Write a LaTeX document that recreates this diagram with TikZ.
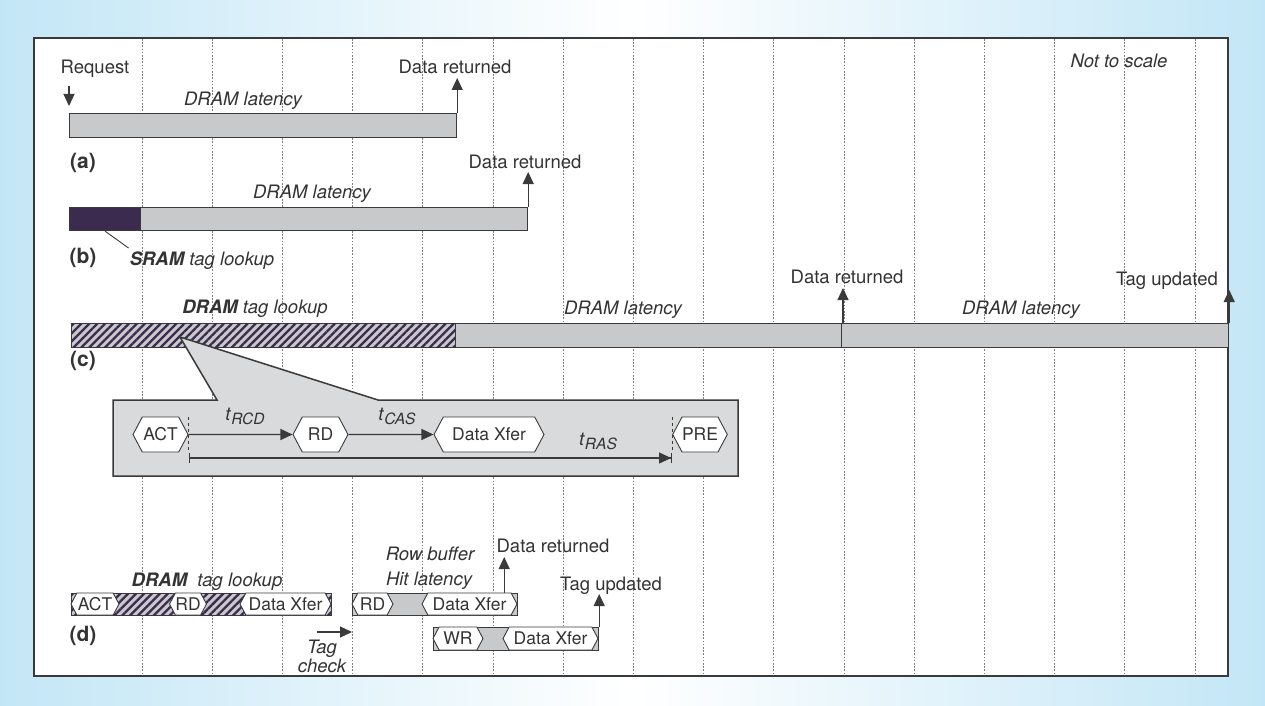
\documentclass[tikz,border=0pt]{standalone}
\usepackage{fontspec}
\setmainfont{TeX Gyre Heros}
\usetikzlibrary{arrows.meta, positioning, shapes.symbols, patterns.meta}
\usepackage{xcolor}
\definecolor{bgblue}{HTML}{C3E6F6}
\definecolor{barc}{HTML}{C8C9CB}
\definecolor{boxc}{HTML}{D9DADC}
\definecolor{purp}{HTML}{3B2B4E}
\definecolor{linec}{HTML}{3A3A3A}
\definecolor{txtc}{HTML}{333333}
\definecolor{gridc}{HTML}{7F7F7F}
\newcommand\lblfont{\fontsize{18.5}{22}\selectfont}
\newcommand\hexfont{\fontsize{17.5}{20}\selectfont}
\newcommand\tsub[1]{\textit{t}\raisebox{-0.45ex}{\fontsize{15.5}{15.5}\selectfont\itshape #1}}

\begin{document}
\begin{tikzpicture}[x=1pt, y=-1pt, >={Triangle[length=12pt,width=11pt]},
  bar/.style={draw=linec, line width=1.2pt, fill=barc, inner sep=0pt, anchor=north west, minimum height=24pt},
  hatch/.style={bar, postaction={pattern={Lines[angle=45,distance=5.6pt,line width=2.3pt]}, pattern color=purp}},
  hex/.style={signal, signal to=west and east, signal pointer angle=124, draw=linec, line width=0.9pt, fill=white, inner xsep=0pt, inner ysep=0pt, text=txtc, font=\hexfont},
  lbl/.style={text=txtc, font=\lblfont, inner sep=0pt, anchor=base},
  ital/.style={lbl, font=\lblfont\itshape},
  panel/.style={lbl, font=\fontsize{21}{24}\selectfont\bfseries},
  arr/.style={->, draw=linec, line width=1.1pt},
  gridline/.style={gridc, line width=0.8pt, dash pattern=on 1.6pt off 1.6pt}]
  \useasboundingbox (0,0) rectangle (1265,706);
  % Background and frame
  \fill[left color=bgblue, right color=bgblue, middle color=white] (0,0) rectangle (1265,706);
  \filldraw[fill=white, draw=linec, line width=1.5pt] (34,38) rectangle (1228,676);
  \foreach \k in {0,...,15} {
    \draw[gridline] ({142+70.2*\k},39) -- ({142+70.2*\k},675);
  }
  \node[ital] at (1119,68) {Not to scale};

  % (a) plain DRAM access
  \node[bar, minimum width=387pt] (a1) at (69,113) {};
  \node[lbl] (req) at (95,74) {Request};
  \coordinate (reqs) at (69,86);
  \draw[arr, shorten >=7pt] (reqs) -- (a1.north west);
  \node[lbl] (a2) at (455,74) {Data returned};
  \draw[arr] (a1.north east) -- ([yshift=-4pt]a1.north east |- a2.base);
  \node[ital] at (243,106) {DRAM latency};
  \node[panel] at (83,168) {(a)};

  % (b) SRAM tags
  \node[bar, fill=purp, minimum width=71pt, minimum height=23pt] (b1) at (69,207) {};
  \node[bar, minimum width=387pt, minimum height=23pt] (b2) at (140,207) {};
  \node[ital] at (312,198) {DRAM latency};
  \node[lbl] (b3) at (525,168) {Data returned};
  \draw[arr] (b2.north east) -- ([yshift=-4pt]b2.north east |- b3.base);
  \node[ital] (b4) at (202,265) {\textbf{SRAM} tag lookup};
  \draw[linec, line width=0.9pt] (b1.south) -- ([xshift=-1pt,yshift=3pt]b4.north west);
  \node[panel] at (83,263) {(b)};

  % (c) DRAM tags
  \node[hatch, minimum width=384pt] (c1) at (71,323) {};
  \node[bar, minimum width=386pt] (c2) at (455,323) {};
  \node[bar, minimum width=387pt] (c3) at (841,323) {};
  \node[ital] at (255,313) {\textbf{DRAM} tag lookup};
  \node[ital] at (623,314) {DRAM latency};
  \node[ital] at (1021,314) {DRAM latency};
  \node[lbl] (c4) at (847,283) {Data returned};
  \node[lbl] (c5) at (1167,285) {Tag updated};
  \coordinate (c3l) at ([xshift=2pt]c3.north west);
  \draw[arr] (c3l) -- ([yshift=-5pt]c3l |- c4.base);
  \draw[arr] (c3.north east) -- ([yshift=-5pt]c3.north east |- c5.base);
  \node[panel] at (83,366) {(c)};

  % Callout with DRAM commands
  \filldraw[fill=boxc, draw=linec, line width=1.5pt, line join=miter]
    (113,400) -- (217,400) -- (180,337) -- (378,400) -- (738,400) -- (738,476) -- (113,476) -- cycle;
  \node[hex, minimum width=55pt, minimum height=35pt] (act) at (160.5,434.5) {ACT};
  \node[hex, minimum width=55pt, minimum height=35pt] (rd) at (320.5,434.5) {RD};
  \node[hex, minimum width=110pt, minimum height=35pt] (dx) at (489,434.5) {Data Xfer};
  \node[hex, minimum width=54pt, minimum height=35pt] (pre) at (700,434.5) {PRE};
  \draw[arr] (act) -- (rd);
  \draw[arr] (rd) -- (dx);
  \node[lbl] at (245,420) {\tsub{RCD}};
  \node[lbl] at (397,420) {\tsub{CAS}};
  \node[lbl] at (598,445) {\tsub{RAS}};
  \draw[linec, line width=0.9pt, dashed] (act.east |- act.north) -- (act.east |- act.south);
  \draw[linec, line width=0.9pt, dashed] (pre.west |- pre.north) -- (pre.west |- pre.south);
  \draw[{Bar[width=10pt]}-{Triangle[length=12pt,width=11pt]Bar[width=10pt]}, linec, line width=1.1pt]
    (act.east |- 0,458) -- (pre.west |- 0,458);

  % (d) row buffer hit
  \node[ital] at (207,586) {\textbf{DRAM}\ \ tag lookup};
  \node[hatch, minimum width=260pt, minimum height=22pt] (d1) at (71,593) {};
  \node[hex, minimum width=48pt, minimum height=22pt] (d1a) at (95,604) {ACT};
  \node[hex, minimum width=36pt, minimum height=22pt] (d1b) at (188,604) {RD};
  \node[hex, minimum width=91pt, minimum height=22pt] (d1c) at (285.5,604) {Data Xfer};
  \node[bar, minimum width=165pt, minimum height=22pt] (d2) at (352,593) {};
  \node[hex, minimum width=41pt, minimum height=22pt] (d2a) at (372.5,604) {RD};
  \node[hex, minimum width=95pt, minimum height=22pt] (d2b) at (469.5,604) {Data Xfer};
  \node[bar, minimum width=165pt, minimum height=23pt] (d3) at (433,627) {};
  \node[hex, minimum width=50pt, minimum height=23pt] (d3a) at (458,638.5) {WR};
  \node[hex, minimum width=95pt, minimum height=23pt] (d3b) at (550.5,638.5) {Data Xfer};
  \node[ital] at (430,560) {Row buffer};
  \node[ital] at (429,585) {Hit latency};
  \node[lbl] (d4) at (553,552) {Data returned};
  \coordinate (d2r) at ([xshift=-14pt]d2.north east);
  \draw[arr] (d2r) -- ([yshift=-5pt]d2r |- d4.base);
  \node[lbl] (d5) at (611,590) {Tag updated};
  \draw[arr] (d3.north east) -- ([yshift=-4pt]d3.north east |- d5.base);
  \coordinate (tc) at (317,632);
  \draw[arr] (tc) -- (d2.west |- tc);
  \node[ital] at (322,653) {Tag};
  \node[ital] at (322,672) {check};
  \node[panel] at (83,641) {(d)};
\end{tikzpicture}
\end{document}
